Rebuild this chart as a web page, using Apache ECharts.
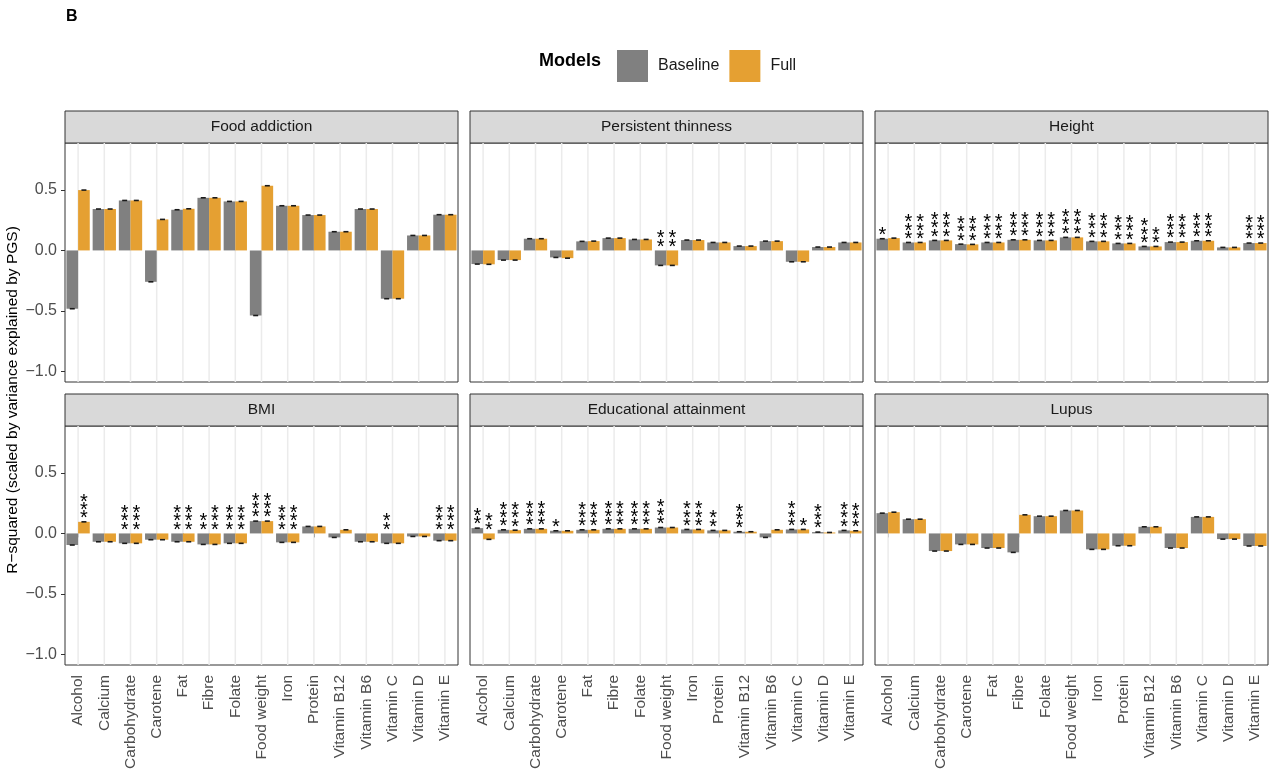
<!DOCTYPE html>
<html>
<head>
<meta charset="utf-8">
<script src="https://cdn.jsdelivr.net/npm/echarts@6/dist/echarts.min.js"></script>
<style>html,body{margin:0;padding:0;background:#fff}#chart{width:1280px;height:776px}</style>
</head>
<body>
<div id="chart"></div>
<script>
// ---------------- data ----------------
const categories = ['Alcohol','Calcium','Carbohydrate','Carotene','Fat','Fibre','Folate','Food weight','Iron','Protein','Vitamin B12','Vitamin B6','Vitamin C','Vitamin D','Vitamin E'];
const panelTitles = ['Food addiction','Persistent thinness','Height','BMI','Educational attainment','Lupus'];
const seriesNames = ['Baseline','Full'];
const yTickValues = [-1, -0.5, 0, 0.5];
const yRange = [-1.09, 0.89];

const foodAddictionBaseline = [-0.483, 0.343, 0.414, -0.260, 0.337, 0.436, 0.406, -0.539, 0.370, 0.293, 0.155, 0.343, -0.400, 0.124, 0.296];
const foodAddictionFull     = [ 0.500, 0.343, 0.414,  0.257, 0.345, 0.436, 0.406,  0.536, 0.370, 0.293, 0.155, 0.343, -0.400, 0.124, 0.296];
const foodAddictionStarsBaseline = [0,0,0,0,0,0,0,0,0,0,0,0,0,0,0];
const foodAddictionStarsFull     = [0,0,0,0,0,0,0,0,0,0,0,0,0,0,0];

const thinnessBaseline = [-0.113, -0.080, 0.097, -0.058, 0.075, 0.102, 0.091, -0.124, 0.086, 0.066, 0.036, 0.077, -0.094, 0.028, 0.066];
const thinnessFull     = [-0.115, -0.080, 0.097, -0.064, 0.077, 0.102, 0.091, -0.124, 0.086, 0.066, 0.036, 0.077, -0.094, 0.028, 0.066];
const thinnessStarsBaseline = [0,0,0,0,0,0,0,2,0,0,0,0,0,0,0];
const thinnessStarsFull     = [0,0,0,0,0,0,0,2,0,0,0,0,0,0,0];

const heightBaseline = [0.097, 0.066, 0.083, 0.052, 0.066, 0.088, 0.083, 0.108, 0.075, 0.058, 0.033, 0.069, 0.080, 0.025, 0.061];
const heightFull     = [0.102, 0.066, 0.083, 0.050, 0.066, 0.088, 0.083, 0.108, 0.075, 0.058, 0.033, 0.069, 0.080, 0.025, 0.061];
const heightStarsBaseline = [1,3,3,3,3,3,3,3,3,3,3,3,3,0,3];
const heightStarsFull     = [0,3,3,3,3,3,3,3,3,3,2,3,3,0,3];

const bmiBaseline = [-0.096, -0.069, -0.082, -0.052, -0.069, -0.091, -0.082, 0.102, -0.074, 0.058, -0.033, -0.069, -0.082, -0.025, -0.060];
const bmiFull     = [ 0.096, -0.069, -0.082, -0.052, -0.069, -0.091, -0.082, 0.102, -0.074, 0.058,  0.030, -0.069, -0.082, -0.025, -0.060];
const bmiStarsBaseline = [0,0,3,0,3,2,3,3,3,0,0,0,2,0,3];
const bmiStarsFull     = [3,0,3,0,3,3,3,3,3,0,0,0,0,0,3];

const eduBaseline = [ 0.044, 0.030, 0.038, 0.022, 0.030, 0.038, 0.038, 0.049, 0.033, 0.025, 0.014, -0.033, 0.033, 0.011, 0.025];
const eduFull     = [-0.049, 0.027, 0.038, 0.022, 0.030, 0.038, 0.038, 0.049, 0.033, 0.025, 0.014,  0.030, 0.033, 0.008, 0.022];
const eduStarsBaseline = [2,3,3,1,3,3,3,3,3,2,3,0,3,3,3];
const eduStarsFull     = [2,3,3,0,3,3,3,0,3,0,0,0,1,0,3];

const lupusBaseline = [0.168, 0.118, -0.146, -0.091, -0.121, -0.157, 0.143, 0.190, -0.132, -0.102, 0.055, -0.121, 0.137, -0.047, -0.104];
const lupusFull     = [0.176, 0.118, -0.146, -0.091, -0.121,  0.154, 0.143, 0.190, -0.132, -0.102, 0.055, -0.121, 0.137, -0.047, -0.104];
const lupusStarsBaseline = [0,0,0,0,0,0,0,0,0,0,0,0,0,0,0];
const lupusStarsFull     = [0,0,0,0,0,0,0,0,0,0,0,0,0,0,0];

const panelBaseline = [foodAddictionBaseline, thinnessBaseline, heightBaseline, bmiBaseline, eduBaseline, lupusBaseline];
const panelFull = [foodAddictionFull, thinnessFull, heightFull, bmiFull, eduFull, lupusFull];
const panelStarsBaseline = [foodAddictionStarsBaseline, thinnessStarsBaseline, heightStarsBaseline, bmiStarsBaseline, eduStarsBaseline, lupusStarsBaseline];
const panelStarsFull = [foodAddictionStarsFull, thinnessStarsFull, heightStarsFull, bmiStarsFull, eduStarsFull, lupusStarsFull];

// ---------------- layout / style ----------------
const FONT = '"Liberation Sans", Arial, Helvetica, sans-serif';
const COL_X = [65, 470, 875];
const PANEL_W = 393;
const ROW_TOP = [143, 426];
const PANEL_H = 239;
const STRIP_H = 32;
const GAP_FRAC = 0.11;
const COLORS = ['#808080', '#E5A032'];

const grids = [], xAxes = [], yAxes = [], series = [], graphics = [];

for (let p = 0; p < 6; p++) {
  const col = p % 3, row = Math.floor(p / 3);
  const left = COL_X[col], top = ROW_TOP[row];
  const isBottom = row === 1, isLeft = col === 0;
  grids.push({left: left, top: top, width: PANEL_W, height: PANEL_H, show: true,
    borderColor: '#333333', borderWidth: 1, backgroundColor: '#ffffff', containLabel: false});
  xAxes.push({gridIndex: p, type: 'category', data: categories, boundaryGap: true,
    axisLine: {show: false},
    axisTick: {show: isBottom, alignWithLabel: true, length: 4, lineStyle: {color: '#333333', width: 1}},
    axisLabel: {show: isBottom, interval: 0, rotate: 90, margin: 10, fontSize: 15.5, color: '#4d4d4d', fontFamily: FONT},
    splitLine: {show: false}});
  yAxes.push({gridIndex: p, type: 'value', min: yRange[0], max: yRange[1],
    axisLine: {show: false}, splitLine: {show: false},
    axisTick: {show: isLeft, customValues: yTickValues, length: 4, lineStyle: {color: '#333333', width: 1}},
    axisLabel: {show: isLeft, customValues: yTickValues, margin: 8, fontSize: 16, color: '#4d4d4d', fontFamily: FONT,
      formatter: v => v.toFixed(1).replace('-', '\u2212')}});

  // vertical grid lines at category centres
  series.push({type: 'custom', name: '_grid' + p, xAxisIndex: p, yAxisIndex: p, z: 1, silent: true,
    data: categories.map((c, i) => [i]), encode: {x: 0},
    renderItem: function (params, api) {
      const x = api.coord([api.value(0), 0])[0];
      const cs = params.coordSys;
      return {type: 'line', shape: {x1: x, y1: cs.y, x2: x, y2: cs.y + cs.height},
        style: {stroke: '#ebebeb', lineWidth: 1.5}};
    }});

  const vals = [panelBaseline[p], panelFull[p]];
  for (let s = 0; s < 2; s++) {
    series.push({type: 'bar', name: seriesNames[s], xAxisIndex: p, yAxisIndex: p, z: 2,
      data: vals[s], barGap: '0%', barCategoryGap: (GAP_FRAC * 100) + '%',
      itemStyle: {color: COLORS[s]}, silent: true});
  }

  // error-bar caps + significance stars
  const annData = categories.map((c, i) => [i, panelBaseline[p][i], panelFull[p][i], panelStarsBaseline[p][i], panelStarsFull[p][i]]);
  series.push({type: 'custom', name: '_ann' + p, xAxisIndex: p, yAxisIndex: p, z: 3, silent: true,
    data: annData, encode: {x: 0, y: [1, 2]},
    renderItem: function (params, api) {
      const i = api.value(0);
      const band = api.size([1, 0], [i, 0])[0];
      const half = band * (1 - GAP_FRAC) / 2;
      const cx = api.coord([i, 0])[0];
      const centers = [cx - half / 2, cx + half / 2];
      const children = [];
      for (let k = 0; k < 2; k++) {
        const v = api.value(1 + k);
        const n = api.value(3 + k);
        const yv = api.coord([i, v])[1];
        children.push({type: 'line', shape: {x1: centers[k] - 2.5, y1: yv, x2: centers[k] + 2.5, y2: yv},
          style: {stroke: '#1a1a1a', lineWidth: 1.6}});
        if (n > 0) {
          const ys = api.coord([i, Math.max(v, 0)])[1];
          children.push({type: 'text', x: centers[k], y: ys + 1,
            style: {text: new Array(n).fill('*').join('\n'), font: '20px ' + FONT, fill: '#000000',
              align: 'center', verticalAlign: 'bottom', lineHeight: 8.3}});
        }
      }
      return {type: 'group', children: children};
    }});

  // strip
  const stripTop = top - STRIP_H;
  graphics.push({type: 'rect', shape: {x: left, y: stripTop, width: PANEL_W, height: STRIP_H},
    style: {fill: '#d9d9d9', stroke: '#333333', lineWidth: 1}, silent: true});
  graphics.push({type: 'text', x: left + PANEL_W / 2, y: stripTop + STRIP_H / 2,
    style: {text: panelTitles[p], font: '15.5px ' + FONT, fill: '#1a1a1a', align: 'center', verticalAlign: 'middle'}, silent: true});
}

graphics.push({type: 'text', x: 66, y: 9,
  style: {text: 'B', font: 'bold 16px ' + FONT, fill: '#000000', align: 'left', verticalAlign: 'top'}});
graphics.push({type: 'text', x: 539, y: 61,
  style: {text: 'Models', font: 'bold 18px ' + FONT, fill: '#000000', align: 'left', verticalAlign: 'middle'}});
graphics.push({type: 'text', x: 13, y: 400, rotation: Math.PI / 2,
  style: {text: 'R\u2212squared (scaled by variance explained by PGS)', font: '15.5px ' + FONT, fill: '#000000',
    align: 'center', verticalAlign: 'middle'}});

const option = {
  animation: false,
  backgroundColor: '#ffffff',
  legend: {data: seriesNames, left: 612, top: 45, itemWidth: 31, itemHeight: 32, itemGap: 10, icon: 'rect',
    selectedMode: false, textStyle: {fontSize: 16, color: '#1a1a1a', fontFamily: FONT, padding: [0, 0, 0, 5]}},
  grid: grids, xAxis: xAxes, yAxis: yAxes, series: series,
  graphic: {elements: graphics}
};

const chart = echarts.init(document.getElementById('chart'), null, {renderer: 'canvas'});
chart.setOption(option);
</script>
</body>
</html>
